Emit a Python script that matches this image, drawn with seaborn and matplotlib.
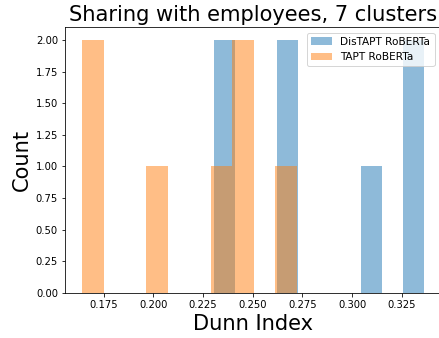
import matplotlib
matplotlib.use("Agg")
import matplotlib.pyplot as plt
import seaborn as sns
import pandas as pd

# Dunn index per run for each model
distapt_roberta = [0.2307, 0.2360, 0.2650, 0.2690, 0.3090, 0.3300, 0.3361]
tapt_roberta = [0.1641, 0.1680, 0.2010, 0.2320, 0.2420, 0.2460, 0.2721]

series_names = ["DisTAPT RoBERTa", "TAPT RoBERTa"]
title = "Sharing with employees, 7 clusters"

dpi = 72
W, H = 439, 338
fig = plt.figure(figsize=(W / dpi, H / dpi), dpi=dpi)
ax = fig.add_axes([65 / W, (H - 292.7) / H, 376 / W, 265.4 / H])

for values, name, color in zip([distapt_roberta, tapt_roberta], series_names, ["C0", "C1"]):
    sns.histplot(x=pd.Series(values), bins=10, alpha=0.5, color=color,
                 linewidth=0, label=name, ax=ax)

ax.set_title(title, fontsize=21)
ax.set_xlabel("Dunn Index", fontsize=21)
ax.set_ylabel("Count", fontsize=21)
ax.tick_params(labelsize=10)
ax.legend(loc="upper right", fontsize=10.5,
          bbox_to_anchor=(434.5 / W, 1 - 32.5 / H), bbox_transform=fig.transFigure,
          borderaxespad=0)

fig.savefig("out.png", dpi=dpi)
